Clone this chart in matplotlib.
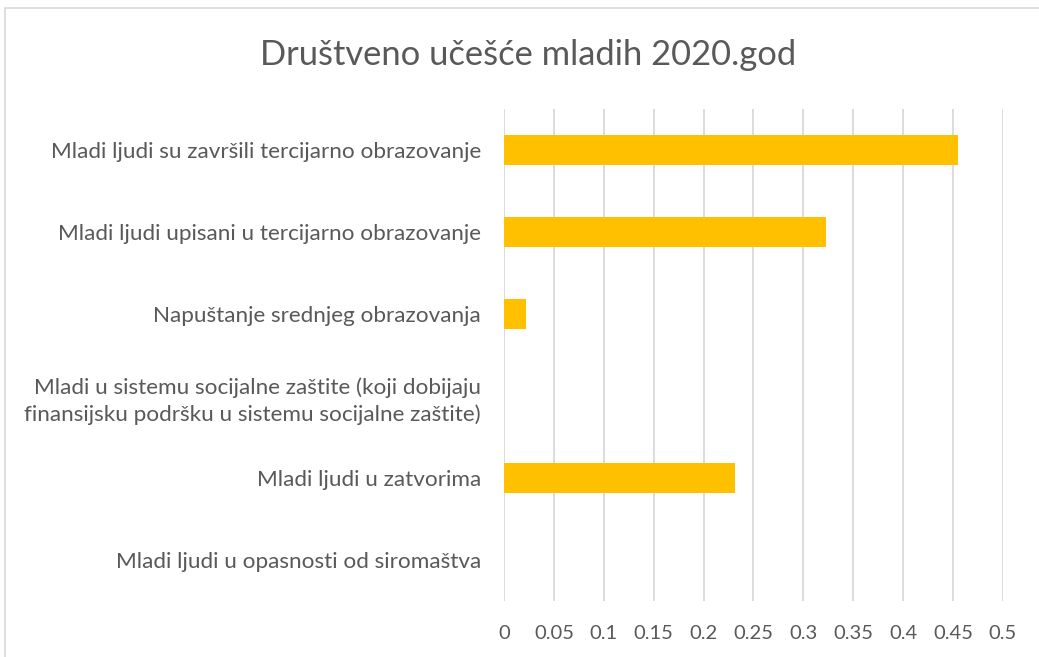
import matplotlib.pyplot as plt
from matplotlib.patches import Rectangle

# data
categories = [
    'Mladi ljudi su završili tercijarno obrazovanje',
    'Mladi ljudi upisani u tercijarno obrazovanje',
    'Napuštanje srednjeg obrazovanja',
    'Mladi u sistemu socijalne zaštite (koji dobijaju\nfinansijsku podršku u sistemu socijalne zaštite)',
    'Mladi ljudi u zatvorima',
    'Mladi ljudi u opasnosti od siromaštva',
]
values = [0.455, 0.323, 0.022, 0.0, 0.231, 0.0]
ticks = [0, 0.05, 0.1, 0.15, 0.2, 0.25, 0.3, 0.35, 0.4, 0.45, 0.5]
tick_labels = ['0', '0.05', '0.1', '0.15', '0.2', '0.25', '0.3', '0.35', '0.4', '0.45', '0.5']

plt.rcParams['font.family'] = ['Lato', 'DejaVu Sans']
text_col = '#595959'

fig = plt.figure(figsize=(10.39, 6.57), dpi=100)
ax = fig.add_axes([0.4851, 0.0852, 0.4802, 0.7488])

ax.barh(range(len(categories)), values, height=0.36, color='#FFC000', zorder=3)
ax.set_xlim(0, 0.5)
ax.set_ylim(len(categories) - 0.5, -0.5)
ax.set_xticks(ticks)
ax.set_xticklabels(tick_labels)
ax.set_yticks(range(len(categories)))
ax.set_yticklabels(categories, linespacing=1.4)
ax.tick_params(axis='both', length=0, colors=text_col)
ax.tick_params(axis='x', pad=17, labelsize=14.5)
ax.tick_params(axis='y', pad=16.5, labelsize=16.2)
ax.grid(axis='x', color='#d9d9d9', linewidth=1.3, zorder=0)
for s in ax.spines.values():
    s.set_visible(False)

fig.text(0.508, 0.917, 'Društveno učešće mladih 2020.god', ha='center', va='center',
         fontsize=24.8, color=text_col)

# chart area border
fig.patches.append(Rectangle((5 / 1039, -0.1), 1.2, 1 - 8 / 657 + 0.1,
                             transform=fig.transFigure, fill=False,
                             edgecolor='#d9d9d9', linewidth=1.2))

fig.savefig('out.png', dpi=100)
